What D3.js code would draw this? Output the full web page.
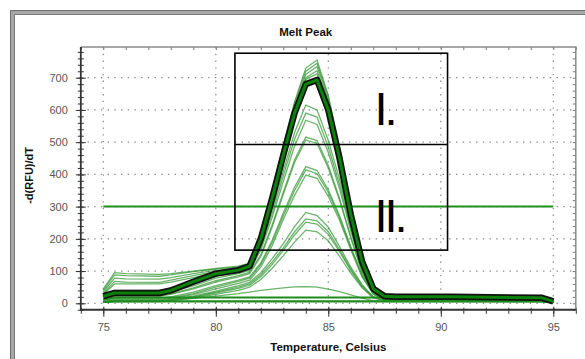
<!DOCTYPE html>
<html>
<head>
<meta charset="utf-8">
<script src="https://cdn.jsdelivr.net/npm/d3@7"></script>
<style>
	body { margin: 0; background: #fff; }
	text { font-family: "Liberation Sans", Arial, sans-serif; }
</style>
</head>
<body>
<div id="melt-peak-container"></div>
<script>
const temperatures = [75, 75.5, 76, 77.5, 78, 79, 80, 81, 81.5, 82, 82.5, 83, 83.5, 84, 84.5, 85, 85.5, 86, 86.5, 87, 87.5, 88, 90.5, 94.5, 95]

const mainSeries = [22, 32, 32, 32, 40, 67, 92, 103, 115, 200, 325, 460, 590, 680, 693, 600, 450, 275, 130, 45, 22, 20, 20, 17, 6]

const tallSeries = [
	[45, 95, 92, 90, 92, 100, 108, 115, 125, 215, 345, 490, 625, 730, 755, 645, 485, 300, 150, 55, 22, 16, 15, 14, 8],
	[40, 88, 86, 84, 88, 98, 106, 112, 122, 210, 340, 485, 620, 720, 745, 640, 480, 295, 145, 52, 20, 15, 15, 13, 7],
	[35, 78, 76, 75, 80, 92, 102, 108, 118, 205, 335, 478, 610, 710, 735, 632, 472, 290, 140, 50, 20, 15, 14, 12, 6],
	[30, 68, 66, 65, 72, 86, 98, 105, 115, 200, 328, 470, 600, 700, 722, 625, 465, 285, 138, 48, 19, 14, 14, 12, 6],
	[28, 60, 60, 60, 66, 80, 94, 102, 112, 195, 320, 460, 590, 695, 712, 620, 460, 280, 135, 46, 18, 14, 13, 11, 5]
]

const mediumSeries = [
	[20, 40, 40, 40, 46, 65, 88, 100, 110, 180, 290, 410, 530, 615, 600, 505, 385, 245, 115, 40, 16, 12, 12, 10, 5],
	[18, 36, 36, 36, 42, 60, 84, 96, 106, 172, 278, 395, 510, 590, 578, 485, 368, 232, 110, 38, 15, 12, 11, 10, 5],
	[15, 30, 30, 30, 36, 54, 78, 92, 102, 165, 265, 378, 488, 568, 555, 468, 355, 224, 106, 36, 14, 11, 11, 9, 4],
	[12, 25, 25, 25, 30, 48, 70, 86, 96, 150, 242, 345, 445, 516, 505, 428, 325, 206, 98, 34, 13, 10, 10, 9, 4],
	[10, 22, 22, 22, 28, 45, 66, 82, 92, 145, 236, 338, 437, 507, 496, 420, 320, 203, 96, 33, 13, 10, 10, 8, 4]
]

const lowSeries = [
	[8, 15, 15, 15, 20, 35, 55, 72, 82, 125, 195, 280, 360, 424, 412, 352, 272, 176, 88, 30, 12, 9, 9, 8, 3],
	[6, 12, 12, 12, 17, 30, 50, 68, 78, 120, 188, 272, 350, 414, 402, 344, 266, 171, 85, 29, 11, 9, 9, 7, 3],
	[5, 10, 10, 10, 15, 27, 45, 62, 72, 112, 178, 260, 335, 398, 388, 332, 258, 166, 82, 28, 11, 8, 8, 7, 3],
	[4, 8, 8, 8, 12, 22, 38, 55, 65, 95, 138, 185, 238, 282, 272, 236, 176, 112, 58, 20, 9, 7, 7, 6, 3],
	[4, 7, 7, 7, 11, 20, 35, 50, 60, 88, 128, 172, 222, 262, 256, 222, 166, 106, 55, 19, 9, 7, 7, 6, 3],
	[3, 6, 6, 6, 10, 18, 32, 46, 56, 82, 120, 164, 212, 252, 246, 214, 160, 102, 52, 18, 8, 6, 6, 5, 2],
	[3, 5, 5, 5, 9, 16, 28, 40, 50, 74, 108, 148, 190, 227, 222, 194, 146, 94, 48, 17, 8, 6, 6, 5, 2],
	[3, 5, 5, 6, 8, 15, 22, 30, 35, 40, 44, 48, 51, 52, 50, 44, 36, 26, 16, 8, 5, 5, 5, 5, 3]
]

const flatSeries = [
	[12, 18, 18, 18, 18, 18, 18, 18, 18, 18, 18, 18, 18, 18, 18, 18, 18, 18, 18, 18, 18, 18, 18, 17, 10],
	[4, 6, 6, 6, 6, 6, 6, 6, 6, 6, 6, 6, 6, 6, 6, 6, 6, 6, 6, 6, 6, 6, 6, 6, 3]
]

const threshold = 300
const thresholdRange = [75, 95]
const boxTemps = [80.85, 90.3]
const boxValues = [165, 493, 776]
const regionLabels = [
	{ text: "I.", t: 87.05, v: 553 },
	{ text: "II.", t: 87.05, v: 221 }
]

const xTicks = [75, 80, 85, 90, 95]
const yTicks = [0, 100, 200, 300, 400, 500, 600, 700]
const xMinorTicks = d3.range(74, 96.01, 1)
const yMinorTicks = d3.range(-20, 791, 20)

const width = 585
const height = 359
const plotLeft = 80.8
const plotRight = 575.8
const plotTop = 47.1
const plotBottom = 309.75

const x = d3.scaleLinear().domain([74, 96]).range([plotLeft, plotRight])
const y = d3.scaleLinear().domain([-20, 795]).range([plotBottom, plotTop])

const svg = d3
	.select("#melt-peak-container")
	.append("svg")
	.attr("width", width)
	.attr("height", height)
	.style("display", "block")

svg.append("rect").attr("width", width).attr("height", height).attr("fill", "#fff")

// window frame (only top and left edge are visible)
svg.append("path")
	.attr("d", `M 12.5,${height + 5} V 12.5 H ${width + 5}`)
	.attr("fill", "none")
	.attr("stroke", "#a8a8a8")
	.attr("stroke-width", 5)
svg.append("path")
	.attr("d", `M 10.5,${height + 5} V 10.5 H ${width + 5}`)
	.attr("fill", "none")
	.attr("stroke", "#6e6e6e")
	.attr("stroke-width", 1)
svg.append("path")
	.attr("d", `M 14.5,${height + 5} V 14.5 H ${width + 5}`)
	.attr("fill", "none")
	.attr("stroke", "#7a7a7a")
	.attr("stroke-width", 1)

const grid = svg.append("g").attr("stroke", "#8a8a8a").attr("stroke-width", 1.2).attr("stroke-dasharray", "1.4,5.3")
grid.selectAll(".v-grid")
	.data(xTicks)
	.enter()
	.append("line")
	.attr("class", "v-grid")
	.attr("x1", d => x(d))
	.attr("x2", d => x(d))
	.attr("y1", plotTop)
	.attr("y2", plotBottom)
grid.selectAll(".h-grid")
	.data(yTicks)
	.enter()
	.append("line")
	.attr("class", "h-grid")
	.attr("x1", plotLeft)
	.attr("x2", plotRight)
	.attr("y1", d => y(d))
	.attr("y2", d => y(d))

const line = d3
	.line()
	.x((d, i) => x(temperatures[i]))
	.y(d => y(d))

const curves = svg.append("g").attr("fill", "none")
curves.selectAll(".curve")
	.data([...tallSeries, ...mediumSeries, ...lowSeries])
	.enter()
	.append("path")
	.attr("class", "curve")
	.attr("d", line)
	.attr("stroke", "#3a9a3a")
	.attr("stroke-opacity", 0.75)
	.attr("stroke-width", 1.3)
curves.selectAll(".flat")
	.data(flatSeries)
	.enter()
	.append("path")
	.attr("class", "flat")
	.attr("d", line)
	.attr("stroke", "#1c8c1c")
	.attr("stroke-width", 2.2)

svg.append("line")
	.attr("x1", x(thresholdRange[0]))
	.attr("x2", x(thresholdRange[1]))
	.attr("y1", y(threshold))
	.attr("y2", y(threshold))
	.attr("stroke", "#1f8f1f")
	.attr("stroke-width", 2)

svg.append("path")
	.datum(mainSeries)
	.attr("d", line)
	.attr("fill", "none")
	.attr("stroke", "#111")
	.attr("stroke-width", 6.5)
	.attr("stroke-linejoin", "round")
svg.append("path")
	.datum(mainSeries)
	.attr("d", line)
	.attr("fill", "none")
	.attr("stroke", "#0a820a")
	.attr("stroke-width", 3)
	.attr("stroke-linejoin", "round")

// axes
const axisColor = "#333"
const leftAxis = svg.append("g").attr("transform", `translate(${plotLeft},0)`)
leftAxis.call(d3.axisLeft(y).tickValues(yMinorTicks).tickSize(3).tickFormat(""))
leftAxis.selectAll(".tick line").attr("x1", 3)
const leftMajor = svg.append("g").attr("transform", `translate(${plotLeft},0)`)
leftMajor.call(d3.axisLeft(y).tickValues(yTicks).tickSize(5).tickPadding(8))
leftMajor.selectAll(".tick line").attr("x1", 5)

const bottomAxis = svg.append("g").attr("transform", `translate(0,${plotBottom})`)
bottomAxis.call(d3.axisBottom(x).tickValues(xMinorTicks).tickSize(4).tickFormat(""))
bottomAxis.selectAll(".tick line").attr("y1", -2)
const bottomMajor = svg.append("g").attr("transform", `translate(0,${plotBottom})`)
bottomMajor.call(d3.axisBottom(x).tickValues(xTicks).tickSize(7).tickPadding(6))
bottomMajor.selectAll(".tick line").attr("y1", -3)

const topAxis = svg.append("g").attr("transform", `translate(0,${plotTop})`)
topAxis.call(d3.axisTop(x).tickValues(xMinorTicks).tickSize(-3).tickFormat(""))
const rightAxis = svg.append("g").attr("transform", `translate(${plotRight},0)`)
rightAxis.call(d3.axisRight(y).tickValues(yMinorTicks).tickSize(-3).tickFormat(""))

;[leftAxis, leftMajor, bottomAxis, bottomMajor].forEach(a => {
	a.selectAll(".domain").remove()
	a.selectAll(".tick line").attr("stroke", axisColor)
})
;[topAxis, rightAxis].forEach(a => {
	a.selectAll(".domain").remove()
	a.selectAll(".tick line").attr("stroke", "#777")
})
svg.selectAll(".tick text")
	.attr("fill", "#555")
	.style("font-size", "11px")
	.style("font-family", "'Liberation Sans', Arial, sans-serif")

svg.append("path")
	.attr("d", `M ${plotLeft},${plotTop} H ${plotRight} V ${plotBottom}`)
	.attr("fill", "none")
	.attr("stroke", "#8a8a8a")
	.attr("stroke-width", 1.5)
svg.append("path")
	.attr("d", `M ${plotLeft},${plotTop} V ${plotBottom} H ${plotRight}`)
	.attr("fill", "none")
	.attr("stroke", axisColor)
	.attr("stroke-width", 1.8)

// annotation boxes
const box = svg.append("g").attr("fill", "none").attr("stroke", "#000").attr("stroke-width", 1.6)
box.append("rect")
	.attr("x", x(boxTemps[0]))
	.attr("y", y(boxValues[2]))
	.attr("width", x(boxTemps[1]) - x(boxTemps[0]))
	.attr("height", y(boxValues[0]) - y(boxValues[2]))
box.append("line")
	.attr("x1", x(boxTemps[0]))
	.attr("x2", x(boxTemps[1]))
	.attr("y1", y(boxValues[1]))
	.attr("y2", y(boxValues[1]))

svg.selectAll(".region-label")
	.data(regionLabels)
	.enter()
	.append("text")
	.attr("class", "region-label")
	.attr("x", d => x(d.t))
	.attr("y", d => y(d.v))
	.attr("font-size", 47)
	.attr("letter-spacing", -3)
	.attr("fill", "#000")
	.text(d => d.text)

svg.append("text")
	.attr("x", 305.7)
	.attr("y", 35.5)
	.attr("text-anchor", "middle")
	.attr("font-size", 11.5)
	.attr("font-weight", "bold")
	.attr("fill", "#111")
	.text("Melt Peak")

svg.append("text")
	.attr("x", (plotLeft + plotRight) / 2)
	.attr("y", 351)
	.attr("text-anchor", "middle")
	.attr("font-size", 11.5)
	.attr("font-weight", "bold")
	.attr("fill", "#111")
	.text("Temperature, Celsius")

svg.append("text")
	.attr("transform", `translate(33,${(plotTop + plotBottom) / 2 - 3}) rotate(-90)`)
	.attr("text-anchor", "middle")
	.attr("font-size", 11)
	.attr("font-weight", "bold")
	.attr("fill", "#111")
	.text("-d(RFU)/dT")
</script>
</body>
</html>
